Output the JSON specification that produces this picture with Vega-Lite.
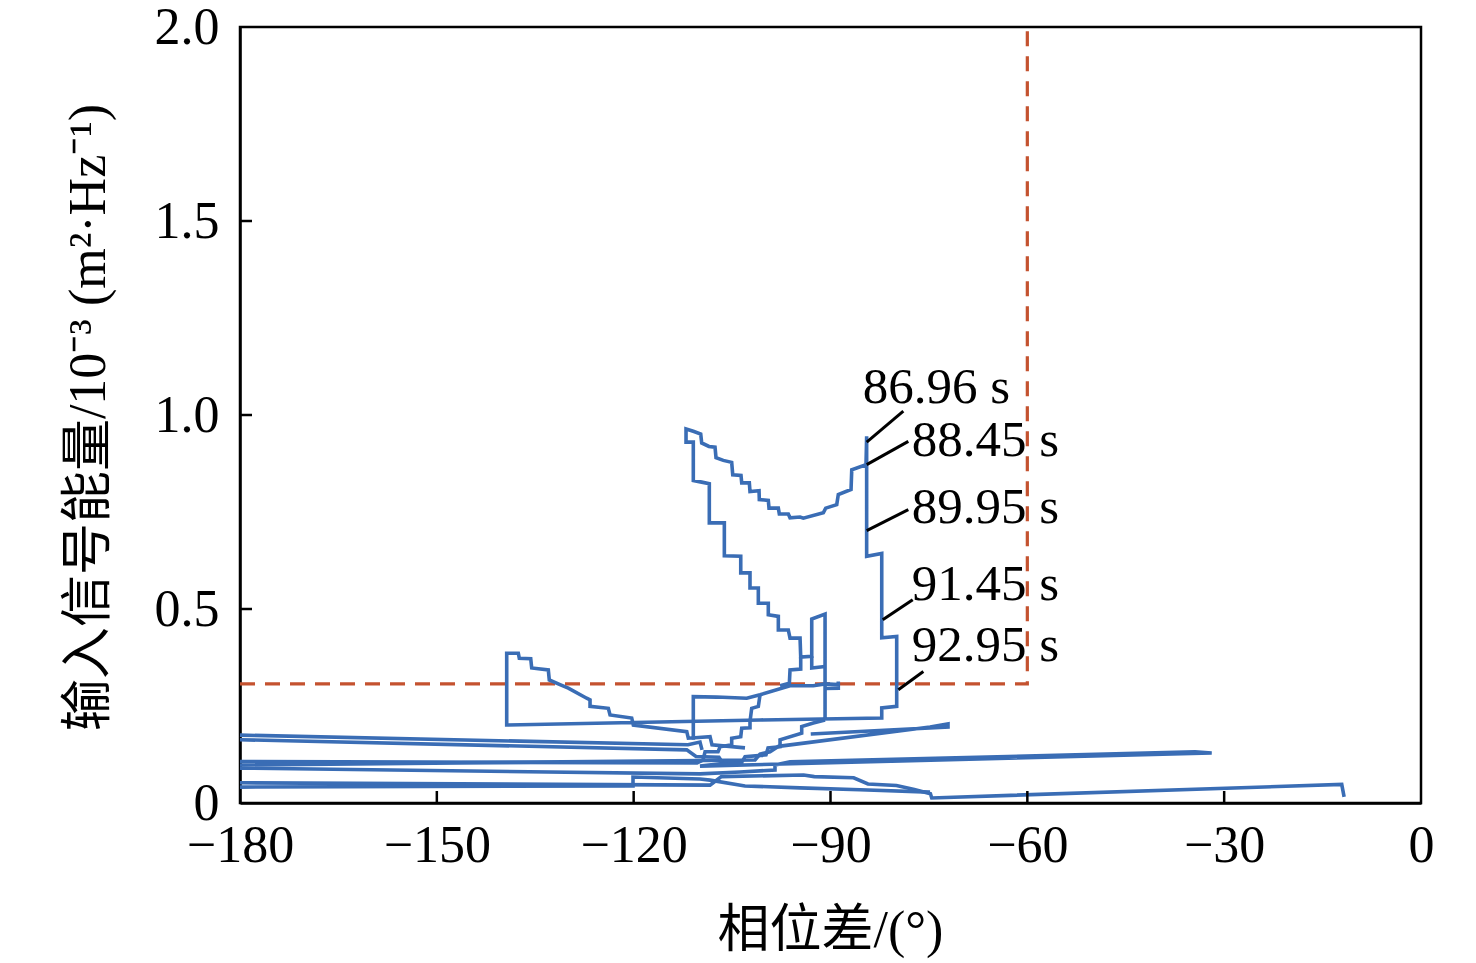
{
  "$schema": "https://vega.github.io/schema/vega-lite/v6.json",
  "description": "Input signal energy vs phase difference",
  "width": 1181,
  "height": 776,
  "autosize": {"type": "none"},
  "padding": {"left": 240, "top": 27, "right": 55, "bottom": 160},
  "background": "white",
  "config": {
    "view": {"stroke": "black", "strokeWidth": 2.5},
    "axis": {
      "grid": false,
      "ticks": false,
      "labelFlush": false,
      "labelOverlap": false,
      "domainColor": "black",
      "domainWidth": 2.5,
      "labelFont": "Liberation Serif",
      "labelFontSize": 52,
      "labelColor": "black",
      "titleFont": "Liberation Serif, Noto Sans CJK SC",
      "titleFontSize": 52,
      "titleFontWeight": "normal",
      "titleColor": "black"
    }
  },
  "datasets": {
    "traj": [
      {"s": 1, "i": 1, "x": -90.83, "y": 0.214},
      {"s": 1, "i": 2, "x": -90.83, "y": 0.487},
      {"s": 1, "i": 3, "x": -92.86, "y": 0.474},
      {"s": 1, "i": 4, "x": -92.86, "y": 0.378},
      {"s": 1, "i": 5, "x": -94.54, "y": 0.376},
      {"s": 1, "i": 6, "x": -94.64, "y": 0.425},
      {"s": 1, "i": 7, "x": -96.17, "y": 0.425},
      {"s": 1, "i": 8, "x": -96.43, "y": 0.446},
      {"s": 1, "i": 9, "x": -97.95, "y": 0.446},
      {"s": 1, "i": 10, "x": -97.95, "y": 0.481},
      {"s": 1, "i": 11, "x": -99.48, "y": 0.485},
      {"s": 1, "i": 12, "x": -99.48, "y": 0.515},
      {"s": 1, "i": 13, "x": -101.0, "y": 0.515},
      {"s": 1, "i": 14, "x": -101.0, "y": 0.554},
      {"s": 1, "i": 15, "x": -102.27, "y": 0.554},
      {"s": 1, "i": 16, "x": -102.27, "y": 0.593},
      {"s": 1, "i": 17, "x": -103.68, "y": 0.593},
      {"s": 1, "i": 18, "x": -103.68, "y": 0.636},
      {"s": 1, "i": 19, "x": -106.18, "y": 0.637},
      {"s": 1, "i": 20, "x": -106.18, "y": 0.722},
      {"s": 1, "i": 21, "x": -108.47, "y": 0.722},
      {"s": 1, "i": 22, "x": -108.47, "y": 0.823},
      {"s": 1, "i": 23, "x": -109.63, "y": 0.827},
      {"s": 1, "i": 24, "x": -110.91, "y": 0.831},
      {"s": 1, "i": 25, "x": -110.91, "y": 0.930},
      {"s": 1, "i": 26, "x": -112.02, "y": 0.930},
      {"s": 1, "i": 27, "x": -112.02, "y": 0.964},
      {"s": 1, "i": 28, "x": -110.91, "y": 0.958},
      {"s": 1, "i": 29, "x": -109.78, "y": 0.951},
      {"s": 1, "i": 30, "x": -109.63, "y": 0.928},
      {"s": 1, "i": 31, "x": -108.52, "y": 0.919},
      {"s": 1, "i": 32, "x": -107.6, "y": 0.917},
      {"s": 1, "i": 33, "x": -107.45, "y": 0.890},
      {"s": 1, "i": 34, "x": -106.34, "y": 0.883},
      {"s": 1, "i": 35, "x": -105.06, "y": 0.878},
      {"s": 1, "i": 36, "x": -104.9, "y": 0.846},
      {"s": 1, "i": 37, "x": -103.64, "y": 0.844},
      {"s": 1, "i": 38, "x": -103.53, "y": 0.825},
      {"s": 1, "i": 39, "x": -102.37, "y": 0.825},
      {"s": 1, "i": 40, "x": -102.27, "y": 0.803},
      {"s": 1, "i": 41, "x": -100.89, "y": 0.805},
      {"s": 1, "i": 42, "x": -100.85, "y": 0.782},
      {"s": 1, "i": 43, "x": -99.48, "y": 0.780},
      {"s": 1, "i": 44, "x": -99.37, "y": 0.760},
      {"s": 1, "i": 45, "x": -97.95, "y": 0.760},
      {"s": 1, "i": 46, "x": -97.8, "y": 0.745},
      {"s": 1, "i": 47, "x": -96.43, "y": 0.745},
      {"s": 1, "i": 48, "x": -96.17, "y": 0.735},
      {"s": 1, "i": 49, "x": -94.64, "y": 0.737},
      {"s": 1, "i": 50, "x": -94.14, "y": 0.734},
      {"s": 1, "i": 51, "x": -91.09, "y": 0.748},
      {"s": 1, "i": 52, "x": -90.73, "y": 0.760},
      {"s": 1, "i": 53, "x": -89.05, "y": 0.769},
      {"s": 1, "i": 54, "x": -88.81, "y": 0.795},
      {"s": 1, "i": 55, "x": -86.87, "y": 0.808},
      {"s": 1, "i": 56, "x": -86.76, "y": 0.859},
      {"s": 1, "i": 57, "x": -84.59, "y": 0.872},
      {"s": 1, "i": 58, "x": -84.49, "y": 0.945},
      {"s": 1, "i": 59, "x": -84.49, "y": 0.636},
      {"s": 1, "i": 60, "x": -82.19, "y": 0.643},
      {"s": 1, "i": 61, "x": -82.19, "y": 0.426},
      {"s": 1, "i": 62, "x": -79.91, "y": 0.429},
      {"s": 1, "i": 63, "x": -79.91, "y": 0.249},
      {"s": 1, "i": 64, "x": -82.19, "y": 0.245},
      {"s": 1, "i": 65, "x": -82.19, "y": 0.219},
      {"s": 1, "i": 66, "x": -100.74, "y": 0.214},
      {"s": 1, "i": 67, "x": -139.35, "y": 0.201},
      {"s": 1, "i": 68, "x": -139.35, "y": 0.386},
      {"s": 1, "i": 69, "x": -137.58, "y": 0.386},
      {"s": 1, "i": 70, "x": -137.43, "y": 0.373},
      {"s": 1, "i": 71, "x": -135.69, "y": 0.372},
      {"s": 1, "i": 72, "x": -135.54, "y": 0.348},
      {"s": 1, "i": 73, "x": -133.01, "y": 0.343},
      {"s": 1, "i": 74, "x": -132.86, "y": 0.317},
      {"s": 1, "i": 75, "x": -131.23, "y": 0.305},
      {"s": 1, "i": 76, "x": -129.96, "y": 0.296},
      {"s": 1, "i": 77, "x": -127.16, "y": 0.270},
      {"s": 1, "i": 78, "x": -126.65, "y": 0.266},
      {"s": 1, "i": 79, "x": -126.65, "y": 0.249},
      {"s": 1, "i": 80, "x": -123.86, "y": 0.244},
      {"s": 1, "i": 81, "x": -123.6, "y": 0.227},
      {"s": 1, "i": 82, "x": -120.3, "y": 0.219},
      {"s": 1, "i": 83, "x": -120.05, "y": 0.201},
      {"s": 1, "i": 84, "x": -111.91, "y": 0.184},
      {"s": 1, "i": 85, "x": -111.67, "y": 0.167},
      {"s": 1, "i": 86, "x": -108.36, "y": 0.171},
      {"s": 1, "i": 87, "x": -108.06, "y": 0.150},
      {"s": 1, "i": 88, "x": -103.03, "y": 0.142},
      {"s": 2, "i": 1, "x": -110.91, "y": 0.163},
      {"s": 2, "i": 2, "x": -110.91, "y": 0.274},
      {"s": 2, "i": 3, "x": -107.34, "y": 0.273},
      {"s": 2, "i": 4, "x": -102.77, "y": 0.270},
      {"s": 2, "i": 5, "x": -100.74, "y": 0.279},
      {"s": 2, "i": 6, "x": -96.17, "y": 0.302},
      {"s": 2, "i": 7, "x": -92.62, "y": 0.302},
      {"s": 2, "i": 8, "x": -90.83, "y": 0.307},
      {"s": 2, "i": 9, "x": -88.81, "y": 0.305},
      {"s": 2, "i": 10, "x": -88.81, "y": 0.313},
      {"s": 2, "i": 11, "x": -88.81, "y": 0.296},
      {"s": 2, "i": 12, "x": -90.83, "y": 0.295},
      {"s": 3, "i": 1, "x": -100.74, "y": 0.279},
      {"s": 3, "i": 2, "x": -101.0, "y": 0.249},
      {"s": 3, "i": 3, "x": -102.01, "y": 0.244},
      {"s": 3, "i": 4, "x": -102.27, "y": 0.210},
      {"s": 3, "i": 5, "x": -102.27, "y": 0.194},
      {"s": 3, "i": 6, "x": -103.53, "y": 0.193},
      {"s": 3, "i": 7, "x": -103.68, "y": 0.171},
      {"s": 3, "i": 8, "x": -105.06, "y": 0.167},
      {"s": 3, "i": 9, "x": -105.06, "y": 0.150},
      {"s": 3, "i": 10, "x": -106.84, "y": 0.145},
      {"s": 3, "i": 11, "x": -107.14, "y": 0.132},
      {"s": 3, "i": 12, "x": -109.12, "y": 0.132},
      {"s": 3, "i": 13, "x": -109.43, "y": 0.111},
      {"s": 3, "i": 14, "x": -110.34, "y": 0.103},
      {"s": 3, "i": 15, "x": -180, "y": 0.107},
      {"s": 4, "i": 1, "x": -90.83, "y": 0.214},
      {"s": 4, "i": 2, "x": -92.62, "y": 0.206},
      {"s": 4, "i": 3, "x": -94.39, "y": 0.197},
      {"s": 4, "i": 4, "x": -94.39, "y": 0.180},
      {"s": 4, "i": 5, "x": -97.69, "y": 0.163},
      {"s": 4, "i": 6, "x": -97.69, "y": 0.145},
      {"s": 4, "i": 7, "x": -99.52, "y": 0.142},
      {"s": 4, "i": 8, "x": -99.83, "y": 0.124},
      {"s": 4, "i": 9, "x": -103.03, "y": 0.119},
      {"s": 4, "i": 10, "x": -103.49, "y": 0.106},
      {"s": 4, "i": 11, "x": -106.84, "y": 0.101},
      {"s": 4, "i": 12, "x": -109.89, "y": 0.095},
      {"s": 4, "i": 13, "x": -31.9, "y": 0.129},
      {"s": 4, "i": 14, "x": -34.44, "y": 0.132},
      {"s": 4, "i": 15, "x": -96.17, "y": 0.106},
      {"s": 4, "i": 16, "x": -98.46, "y": 0.098},
      {"s": 4, "i": 17, "x": -98.46, "y": 0.085},
      {"s": 4, "i": 18, "x": -103.79, "y": 0.080},
      {"s": 4, "i": 19, "x": -109.89, "y": 0.075},
      {"s": 4, "i": 20, "x": -180, "y": 0.090},
      {"s": 5, "i": 1, "x": -93.01, "y": 0.178},
      {"s": 5, "i": 2, "x": -72.09, "y": 0.196},
      {"s": 5, "i": 3, "x": -72.09, "y": 0.204},
      {"s": 5, "i": 4, "x": -74.83, "y": 0.196},
      {"s": 5, "i": 5, "x": -97.91, "y": 0.146},
      {"s": 5, "i": 6, "x": -99.22, "y": 0.132},
      {"s": 5, "i": 7, "x": -100.74, "y": 0.126},
      {"s": 5, "i": 8, "x": -101.5, "y": 0.111},
      {"s": 5, "i": 9, "x": -180, "y": 0.098},
      {"s": 6, "i": 1, "x": -180, "y": 0.052},
      {"s": 6, "i": 2, "x": -108.36, "y": 0.046},
      {"s": 6, "i": 3, "x": -106.63, "y": 0.068},
      {"s": 6, "i": 4, "x": -94.1, "y": 0.072},
      {"s": 6, "i": 5, "x": -92.47, "y": 0.068},
      {"s": 6, "i": 6, "x": -86.47, "y": 0.065},
      {"s": 6, "i": 7, "x": -84.29, "y": 0.049},
      {"s": 6, "i": 8, "x": -79.95, "y": 0.045},
      {"s": 6, "i": 9, "x": -77.22, "y": 0.035},
      {"s": 6, "i": 10, "x": -74.77, "y": 0.024},
      {"s": 6, "i": 11, "x": -74.57, "y": 0.013},
      {"s": 6, "i": 12, "x": -12.08, "y": 0.048},
      {"s": 6, "i": 13, "x": -11.72, "y": 0.016},
      {"s": 7, "i": 1, "x": -180, "y": 0.175},
      {"s": 7, "i": 2, "x": -111.72, "y": 0.150},
      {"s": 7, "i": 3, "x": -109.89, "y": 0.157},
      {"s": 7, "i": 4, "x": -109.58, "y": 0.137},
      {"s": 8, "i": 1, "x": -180, "y": 0.163},
      {"s": 8, "i": 2, "x": -111.91, "y": 0.137},
      {"s": 8, "i": 3, "x": -110.5, "y": 0.120},
      {"s": 8, "i": 4, "x": -107.0, "y": 0.118},
      {"s": 8, "i": 5, "x": -106.5, "y": 0.105},
      {"s": 9, "i": 1, "x": -180, "y": 0.041},
      {"s": 9, "i": 2, "x": -120.1, "y": 0.044},
      {"s": 9, "i": 3, "x": -120.1, "y": 0.067},
      {"s": 9, "i": 4, "x": -109.89, "y": 0.062},
      {"s": 9, "i": 5, "x": -108.36, "y": 0.059},
      {"s": 9, "i": 6, "x": -103.03, "y": 0.044},
      {"s": 9, "i": 7, "x": -94.64, "y": 0.039},
      {"s": 9, "i": 8, "x": -85.5, "y": 0.034},
      {"s": 9, "i": 9, "x": -74.83, "y": 0.028},
      {"s": 10, "i": 1, "x": -94.54, "y": 0.376},
      {"s": 10, "i": 2, "x": -94.54, "y": 0.345},
      {"s": 10, "i": 3, "x": -96.17, "y": 0.343},
      {"s": 10, "i": 4, "x": -96.27, "y": 0.309},
      {"s": 10, "i": 5, "x": -97.69, "y": 0.302},
      {"s": 11, "i": 1, "x": -92.86, "y": 0.378},
      {"s": 11, "i": 2, "x": -92.86, "y": 0.348},
      {"s": 11, "i": 3, "x": -90.83, "y": 0.352}
    ],
    "threshold": [
      {"i": 1, "x": -180, "y": 0.307},
      {"i": 2, "x": -60, "y": 0.307},
      {"i": 3, "x": -60, "y": 2.0}
    ],
    "labels": [
      {"t": "86.96 s", "x": -85.09, "y": 1.031},
      {"t": "88.45 s", "x": -77.62, "y": 0.894},
      {"t": "89.95 s", "x": -77.62, "y": 0.722},
      {"t": "91.45 s", "x": -77.62, "y": 0.524},
      {"t": "92.95 s", "x": -77.62, "y": 0.365}
    ],
    "leaders": [
      {"x": -84.48, "y": 0.930, "x2": -78.9, "y2": 1.010},
      {"x": -84.48, "y": 0.872, "x2": -78.14, "y2": 0.932},
      {"x": -84.48, "y": 0.702, "x2": -78.14, "y2": 0.756},
      {"x": -82.04, "y": 0.472, "x2": -77.47, "y2": 0.524},
      {"x": -79.66, "y": 0.292, "x2": -75.85, "y2": 0.339}
    ],
    "ticks": [
      {"x": -150, "y": 0, "x2": -150, "y2": 0.031},
      {"x": -120, "y": 0, "x2": -120, "y2": 0.031},
      {"x": -90, "y": 0, "x2": -90, "y2": 0.031},
      {"x": -60, "y": 0, "x2": -60, "y2": 0.031},
      {"x": -30, "y": 0, "x2": -30, "y2": 0.031},
      {"x": -180, "y": 0.5, "x2": -178.17, "y2": 0.5},
      {"x": -180, "y": 1.0, "x2": -178.17, "y2": 1.0},
      {"x": -180, "y": 1.5, "x2": -178.17, "y2": 1.5}
    ]
  },
  "encoding": {
    "x": {
      "field": "x",
      "type": "quantitative",
      "scale": {"domain": [-180, 0], "nice": false, "zero": false},
      "axis": {
        "values": [-180, -150, -120, -90, -60, -30, 0],
        "title": "相位差/(°)",
        "labelBaseline": "alphabetic",
        "labelPadding": 58,
        "titleX": 590,
        "titleY": 127,
        "titleBaseline": "middle",
        "titleAnchor": "middle"
      }
    },
    "y": {
      "field": "y",
      "type": "quantitative",
      "scale": {"domain": [0, 2], "nice": false},
      "axis": {
        "values": [0, 0.5, 1, 1.5, 2],
        "labelExpr": "datum.value == 0 ? '0' : format(datum.value, '.1f')",
        "title": "输入信号能量/10⁻³ (m²·Hz⁻¹)",
        "labelPadding": 21,
        "labelBaseline": "middle",
        "titleX": -152,
        "titleY": 390,
        "titleBaseline": "middle",
        "titleAnchor": "middle"
      }
    }
  },
  "layer": [
    {
      "data": {"name": "threshold"},
      "mark": {"type": "line", "color": "#c4522f", "strokeWidth": 3.2, "strokeDash": [15, 10]},
      "encoding": {"order": {"field": "i"}}
    },
    {
      "data": {"name": "traj"},
      "mark": {"type": "line", "color": "#3a6db5", "strokeWidth": 3.6, "strokeJoin": "miter"},
      "encoding": {
        "detail": {"field": "s", "type": "nominal"},
        "order": {"field": "i"}
      }
    },
    {
      "data": {"name": "ticks"},
      "mark": {"type": "rule", "color": "black", "strokeWidth": 2.5},
      "encoding": {
        "x2": {"field": "x2"},
        "y2": {"field": "y2"}
      }
    },
    {
      "data": {"name": "leaders"},
      "mark": {"type": "rule", "color": "black", "strokeWidth": 3},
      "encoding": {
        "x2": {"field": "x2"},
        "y2": {"field": "y2"}
      }
    },
    {
      "data": {"name": "labels"},
      "mark": {"type": "text", "font": "Liberation Serif", "fontSize": 51, "align": "left", "baseline": "alphabetic", "color": "black"},
      "encoding": {"text": {"field": "t"}}
    }
  ]
}
